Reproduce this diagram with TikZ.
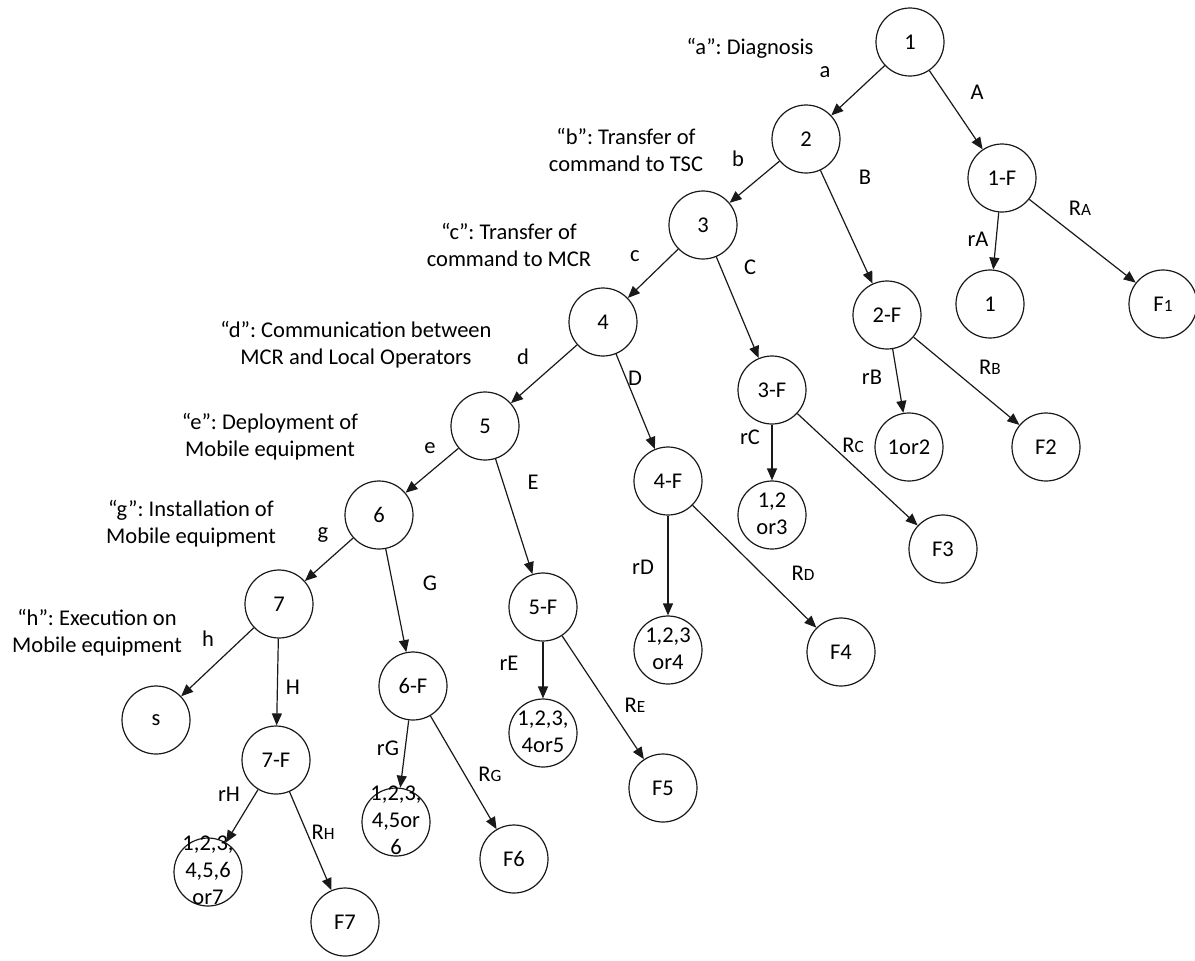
\documentclass[tikz,border=0pt]{standalone}
\usepackage{fontspec}
\setmainfont{Carlito}
\usetikzlibrary{arrows.meta}
\frenchspacing
\newcommand{\sml}[1]{{\fontsize{8.6}{10}\selectfont #1}}
\newcommand{\stk}[1]{\smash{\raisebox{-3pt}{\begin{tabular}{@{}c@{}}#1\end{tabular}}}}
\begin{document}
\begin{tikzpicture}[x=0.5pt,y=-0.5pt,
  every node/.style={font=\fontsize{11.25}{13.5}\selectfont,text=black},
  state/.style={draw=black!90,circle,minimum size=34pt,inner sep=0pt,line width=0.6pt},
  note/.style={align=center,inner sep=0pt},
  lbl/.style={inner sep=0pt},
  arr/.style={-{Triangle[length=6pt,width=5pt]},draw=black!90,line width=0.6pt}]
\useasboundingbox (0,0) rectangle (1195,960);

% main chain
\node [state](n1) at (910,42) {1};
\node [state](n2) at (806,139) {2};
\node [state](n3) at (703,225) {3};
\node [state](n4) at (603,322) {4};
\node [state](n5) at (485,426) {5};
\node [state](n6) at (379,515) {6};
\node [state](n7) at (279,604) {7};
\node [state](s) at (156,720) {s};

% failure branches
\node [state](f1) at (1002,178) {1-F};
\node [state](f2) at (887,315) {2-F};
\node [state](f3) at (772,390) {3-F};
\node [state](f4) at (668,481) {4-F};
\node [state](f5) at (543,607) {5-F};
\node [state](f6) at (413,686) {6-F};
\node [state](f7) at (276,760) {7-F};

% recoveries
\node [state](r1) at (990,304) {1};
\node [state](r2) at (909,447) {1or2};
\node [state](r3) at (772,515) {\stk{1,2\\or3}};
\node [state](r4) at (668,650) {\stk{1,2,3\\or4}};
\node [state](r5) at (543,733) {\stk{1,2,3,\\4or5}};
\node [state](r6) at (396,822) {\stk{1,2,3,\\4,5or\\6}};
\node [state](r7) at (208,872) {\stk{1,2,3,\\4,5,6\\or7}};

% final failures
\node [state](e1) at (1163,304) {F\sml{1}};
\node [state](e2) at (1046,447) {F2};
\node [state](e3) at (943,549) {F3};
\node [state](e4) at (841,652) {F4};
\node [state](e5) at (663,788) {F5};
\node [state](e6) at (514,859) {F6};
\node [state](e7) at (345,922) {F7};

% connectors
\draw[arr] (n1) -- (n2);
\draw[arr] (n2) -- (n3);
\draw[arr] (n3) -- (n4);
\draw[arr] (n4) -- (n5);
\draw[arr] (n5) -- (n6);
\draw[arr] (n6) -- (n7);
\draw[arr] (n7) -- (s);
\draw[arr] (n1) -- (f1);
\draw[arr] (n2) -- (f2);
\draw[arr] (n3) -- (f3);
\draw[arr] (n4) -- (f4);
\draw[arr] (n5) -- (f5);
\draw[arr] (n6) -- (f6);
\draw[arr] (n7) -- (f7);
\draw[arr] (f1) -- (r1);
\draw[arr] (f2) -- (r2);
\draw[arr] (f3) -- (r3);
\draw[arr] (f4) -- (r4);
\draw[arr] (f5) -- (r5);
\draw[arr] (f6) -- (r6);
\draw[arr] (f7) -- (r7);
\draw[arr] (f1) -- (e1);
\draw[arr] (f2) -- (e2);
\draw[arr] (f3) -- (e3);
\draw[arr] (f4) -- (e4);
\draw[arr] (f5) -- (e5);
\draw[arr] (f6) -- (e6);
\draw[arr] (f7) -- (e7);

% edge labels
\node [lbl](la) at (825,72) {a};
\node [lbl](lb) at (738,159) {b};
\node [lbl](lc) at (635,256) {c};
\node [lbl](ld) at (523,357) {d};
\node [lbl](le) at (430,448) {e};
\node [lbl](lg) at (323,535) {g};
\node [lbl](lh) at (208,639) {h};
\node [lbl](lA) at (977,92) {A};
\node [lbl](lB) at (865,177) {B};
\node [lbl](lC) at (750,267) {C};
\node [lbl](lD) at (635,378) {D};
\node [lbl](lE) at (533,482) {E};
\node [lbl](lG) at (430,583) {G};
\node [lbl](lH) at (293,687) {H};
\node [lbl](lrA) at (978,239) {rA};
\node [lbl](lrB) at (872,377) {rB};
\node [lbl](lrC) at (750,437) {rC};
\node [lbl](lrD) at (643,567) {rD};
\node [lbl](lrE) at (509,663) {rE};
\node [lbl](lrG) at (388,748) {rG};
\node [lbl](lrH) at (229,794) {rH};
\node [lbl](lRA) at (1080,208) {R\sml{A}};
\node [lbl](lRB) at (990,367) {R\sml{B}};
\node [lbl](lRC) at (853,445) {R\sml{C}};
\node [lbl](lRD) at (803,573) {R\sml{D}};
\node [lbl](lRE) at (635,705) {R\sml{E}};
\node [lbl](lRG) at (490,774) {R\sml{G}};
\node [lbl](lRH) at (323,832) {R\sml{H}};

% step descriptions
\node [note,anchor=east](ta) at (814,48) {``a'': Diagnosis};
\node [note](tb) at (626,150) {``b'': Transfer of\\command to TSC};
\node [note](tc) at (509,245) {``c'': Transfer of\\command to MCR};
\node [note](td) at (356,345) {``d'': Communication between\\MCR and Local Operators};
\node [note](te) at (270,437) {``e'': Deployment of\\Mobile equipment};
\node [note](tg) at (191,524) {``g'': Installation of\\Mobile equipment};
\node [note](th) at (97,633) {``h'': Execution on\\Mobile equipment};
\end{tikzpicture}
\end{document}
